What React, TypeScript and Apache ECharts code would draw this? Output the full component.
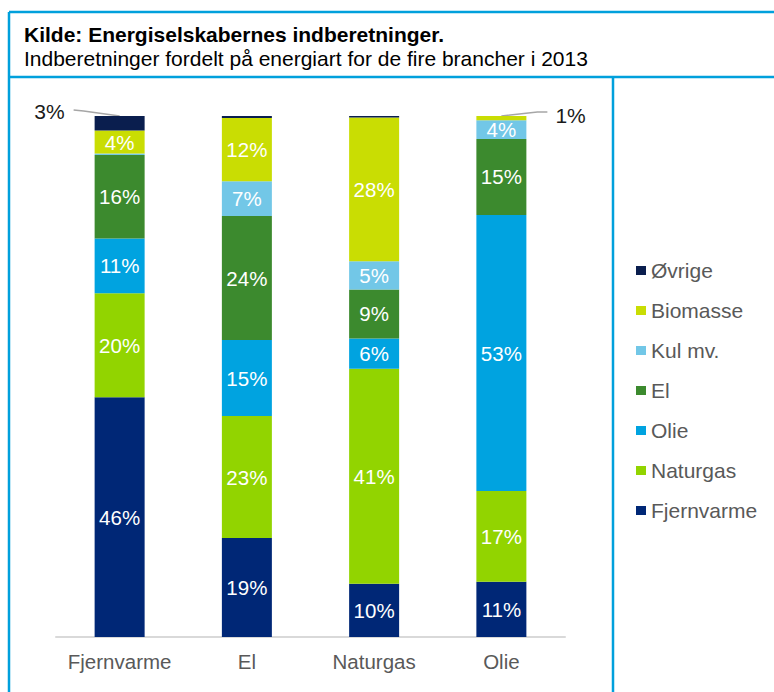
import React, { useEffect, useRef } from "react";
import * as echarts from "echarts";

const categories = ["Fjernvarme", "El", "Naturgas", "Olie"];
const seriesNames = ["Fjernvarme", "Naturgas", "Olie", "El", "Kul mv.", "Biomasse", "Øvrige"];
const fjernvarmeVals = [46, 19, 10.2, 10.6];
const naturgasVals = [20, 23.4, 41.3, 17.4];
const olieVals = [10.5, 14.6, 5.8, 53.0];
const elVals = [16, 23.8, 9.4, 14.6];
const kulVals = [0.3, 6.7, 5.4, 3.6];
const biomasseVals = [4.4, 12.1, 27.6, 0.8];
const ovrigeVals = [2.8, 0.4, 0.3, 0];
const seriesValues = [fjernvarmeVals, naturgasVals, olieVals, elVals, kulVals, biomasseVals, ovrigeVals];
const colors = ["#002776", "#92D400", "#00A3E0", "#3C8A2E", "#72C7E7", "#C9DD03", "#0A1E4E"];
// outside labels (category index, series index, side)
const outsideLabels = [
  { cat: 0, ser: 6, side: "left" },
  { cat: 3, ser: 5, side: "right" },
];
const titleText = "Kilde: Energiselskabernes indberetninger.";
const subtitleText = "Indberetninger fordelt på energiart for de fire brancher i 2013";

const FONT = "'Liberation Sans', Arial, sans-serif";
const FRAME = "#00A0DC";

export default function App() {
  const ref = useRef<HTMLDivElement>(null);
  useEffect(() => {
    if (!ref.current) return;
    const chart = echarts.init(ref.current, undefined, { renderer: "svg" });
    const series = seriesNames.map((name, i) => ({
      name,
      type: "bar",
      stack: "total",
      barWidth: 50,
      data: seriesValues[i],
      itemStyle: { color: colors[i] },
      label: {
        show: true,
        position: "inside",
        color: "#ffffff",
        fontSize: 20.5,
        fontFamily: FONT,
        formatter: (p: any) => (p.value >= 3 ? Math.round(p.value) + "%" : ""),
      },
    }));
    chart.setOption({
      animation: false,
      textStyle: { fontFamily: FONT },
      title: {
        text: titleText,
        subtext: subtitleText,
        left: 19,
        top: 19,
        itemGap: 3,
        textStyle: { fontSize: 21, fontWeight: "bold", color: "#000", fontFamily: FONT },
        subtextStyle: { fontSize: 21, color: "#000", fontFamily: FONT },
      },
      legend: {
        orient: "vertical",
        left: 631,
        top: 255,
        itemWidth: 10,
        itemHeight: 9,
        itemGap: 19,
        icon: "rect",
        data: [...seriesNames].reverse(),
        textStyle: { fontSize: 21, color: "#595959", fontFamily: FONT },
      },
      grid: { left: 56, right: 209, top: 116, bottom: 55 },
      xAxis: {
        type: "category",
        data: categories,
        axisLine: { lineStyle: { color: "#D9D9D9", width: 2 } },
        axisTick: { show: false },
        axisLabel: { interval: 0, fontSize: 20.5, color: "#595959", margin: 14, fontFamily: FONT },
      },
      yAxis: { type: "value", min: 0, max: 100, show: false },
      series,
    });

    const graphics: any[] = [
      { type: "line", shape: { x1: 9, y1: 12, x2: 774, y2: 12 }, style: { stroke: FRAME, lineWidth: 2.5 } },
      { type: "line", shape: { x1: 9, y1: 12, x2: 9, y2: 692 }, style: { stroke: FRAME, lineWidth: 2.5 } },
      { type: "line", shape: { x1: 9, y1: 77, x2: 774, y2: 77 }, style: { stroke: FRAME, lineWidth: 2.5 } },
      { type: "line", shape: { x1: 613, y1: 77, x2: 613, y2: 692 }, style: { stroke: FRAME, lineWidth: 2.5 } },
    ];
    outsideLabels.forEach((o) => {
      let top = 0;
      for (let s = 0; s <= o.ser; s++) top += seriesValues[s][o.cat];
      const val = seriesValues[o.ser][o.cat];
      const p = chart.convertToPixel({ gridIndex: 0 }, [o.cat, top]) as number[];
      const text = Math.round(val < 1 ? 1 : val) + "%";
      if (o.side === "left") {
        graphics.push({
          type: "polyline",
          shape: { points: [[p[0], p[1]], [p[0] - 36, p[1] - 5], [p[0] - 46, p[1] - 6]] },
          style: { stroke: "#A6A6A6", lineWidth: 1.5, fill: "none" },
        });
        graphics.push({
          type: "text",
          x: p[0] - 55,
          y: p[1] - 5,
          style: { text, fontSize: 21, fontFamily: FONT, fill: "#1a1a1a", align: "right", verticalAlign: "middle" },
        });
      } else {
        graphics.push({
          type: "polyline",
          shape: { points: [[p[0], p[1]], [p[0] + 36, p[1] - 4], [p[0] + 46, p[1] - 4]] },
          style: { stroke: "#A6A6A6", lineWidth: 1.5, fill: "none" },
        });
        graphics.push({
          type: "text",
          x: p[0] + 54,
          y: p[1] - 1,
          style: { text, fontSize: 21, fontFamily: FONT, fill: "#1a1a1a", align: "left", verticalAlign: "middle" },
        });
      }
    });
    chart.setOption({ graphic: graphics });
    return () => chart.dispose();
  }, []);
  return (
    <div
      ref={ref}
      style={{ position: "fixed", left: 0, top: 0, width: 774, height: 692, background: "#fff" }}
    />
  );
}
